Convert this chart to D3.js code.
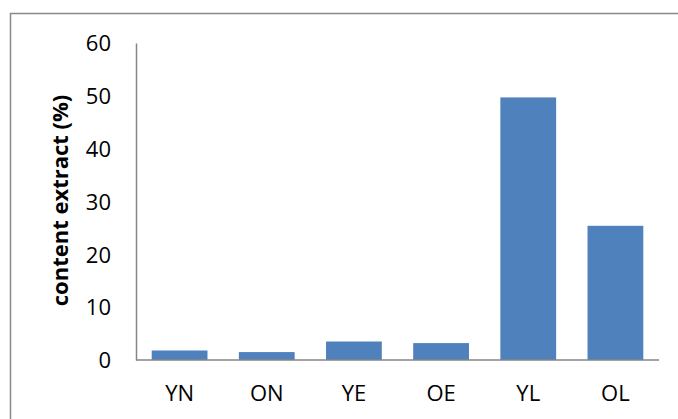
<!DOCTYPE html>
<html>
<head>
<meta charset="utf-8">
<script src="https://cdn.jsdelivr.net/npm/d3@7"></script>
<style>
  body { margin: 0; background: #fff; }
  text { font-family: "Open Sans", sans-serif; fill: #000; }
</style>
</head>
<body>
<script>
// data
const categories = ["YN", "ON", "YE", "OE", "YL", "OL"];
const values = [1.8, 1.5, 3.5, 3.2, 49.7, 25.4];
const yTicks = [0, 10, 20, 30, 40, 50, 60];

const width = 678, height = 419;
const margin = {left: 136, right: 19, top: 43, bottom: 59};

const svg = d3.select("body").append("svg")
    .attr("width", width)
    .attr("height", height);

// chart frame (right/bottom run off the page)
svg.append("rect")
    .attr("x", 10.5).attr("y", 13.5)
    .attr("width", 700).attr("height", 450)
    .attr("fill", "none")
    .attr("stroke", "#898989")
    .attr("stroke-width", 1.5);

const x = d3.scaleBand()
    .domain(categories)
    .range([margin.left, width - margin.right])
    .paddingInner(0.36)
    .paddingOuter(0.18);

const y = d3.scaleLinear()
    .domain([0, 60])
    .range([height - margin.bottom, margin.top]);

// bars
svg.append("g")
    .selectAll("rect")
    .data(values)
    .enter().append("rect")
    .attr("x", (d, i) => x(categories[i]))
    .attr("y", d => y(d))
    .attr("width", x.bandwidth())
    .attr("height", d => y(0) - y(d))
    .attr("fill", "#4f81bd");

// y axis
const yAxis = svg.append("g")
    .attr("transform", `translate(${margin.left},0)`)
    .call(d3.axisLeft(y).tickValues(yTicks).tickSize(0).tickPadding(25));
yAxis.select(".domain").attr("stroke", "#868686").attr("stroke-width", 1.5);
yAxis.selectAll("text")
    .style("font-size", "22px")
    .attr("dy", "0.35em");

// x axis
const xAxis = svg.append("g")
    .attr("transform", `translate(0,${y(0)})`)
    .call(d3.axisBottom(x).tickSize(0));
xAxis.select(".domain").attr("stroke", "#868686").attr("stroke-width", 1.5)
    .attr("d", `M${margin.left},0H${width - margin.right}`);
xAxis.selectAll("text")
    .style("font-size", "22px")
    .attr("dy", "0.35em")
    .attr("y", 33);

// axis title
svg.append("text")
    .attr("transform", `translate(68,${(y(0) + y(60)) / 2 - 1}) rotate(-90)`)
    .attr("text-anchor", "middle")
    .style("font-size", "22px")
    .style("font-weight", "bold")
    .text("content extract (%)");
</script>
</body>
</html>
